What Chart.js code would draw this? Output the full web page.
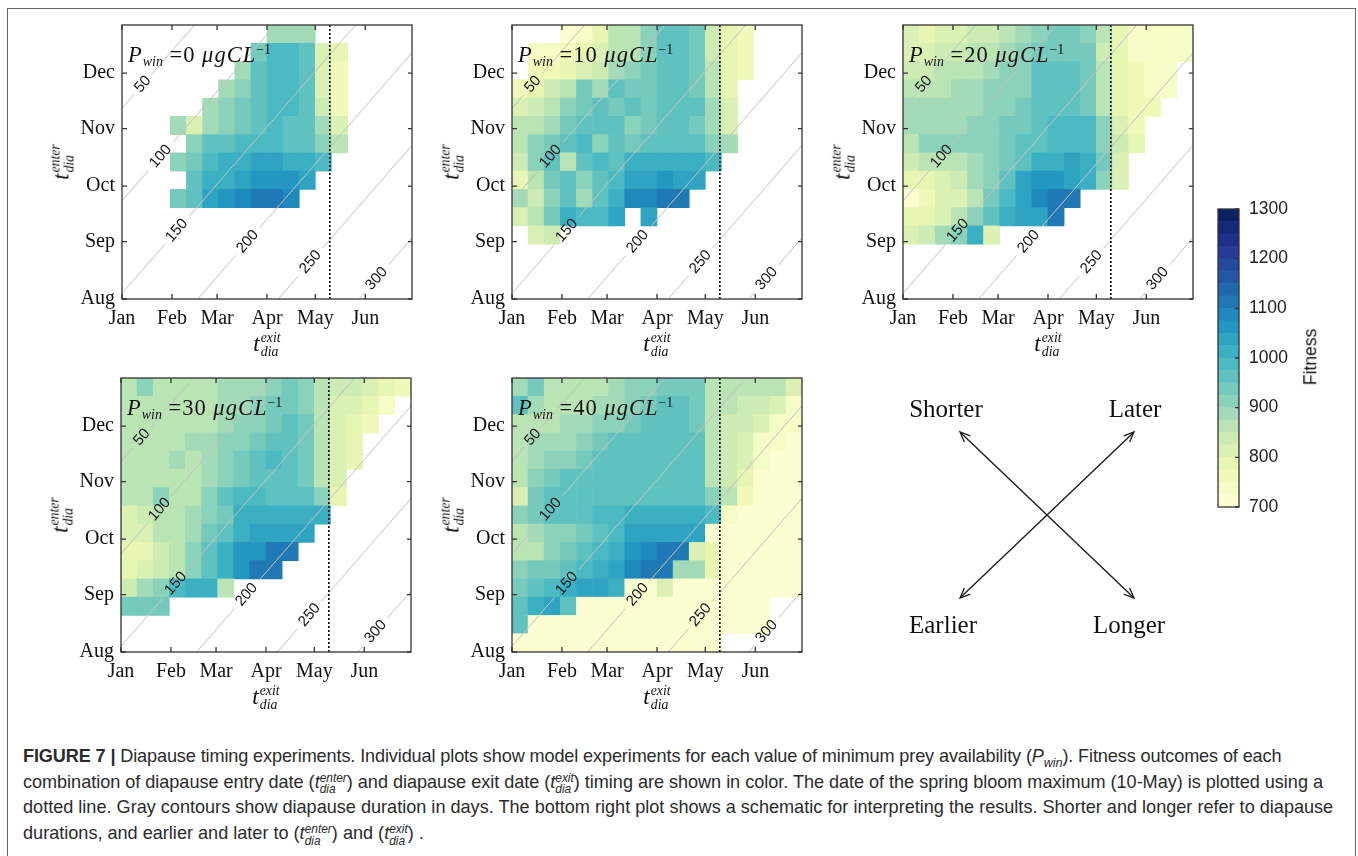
<!DOCTYPE html>
<html>
<head>
<meta charset="utf-8">
<script src="https://cdn.jsdelivr.net/npm/chart.js"></script>
<style>
  html, body { margin: 0; padding: 0; background: #fff; }
  body { width: 1358px; height: 856px; position: relative; overflow: hidden; }
  .frame { position: absolute; left: 7px; top: 8px; width: 1349px; height: 900px; border: 1.5px solid #666; box-sizing: border-box; }
  .txt { position: absolute; white-space: nowrap; font-family: "Liberation Serif", serif; color: #111; line-height: 1; }
  .ss { display: inline-block; vertical-align: -0.42em; font-size: 0.6em; line-height: 1.05; margin-left: 1px; }
  .ss i { display: block; }
  .pw { letter-spacing: 1px; }
  .pw sub { font-size: 0.62em; line-height: 0; vertical-align: -0.3em; letter-spacing: 0; }
  .pw sup { font-size: 0.62em; line-height: 0; vertical-align: 0.55em; letter-spacing: 0; }
  #caption { position: absolute; left: 23px; top: 744px; font-family: "Liberation Sans", Arial, sans-serif; font-size: 18.1px; line-height: 25.7px; color: #2b2b2b; white-space: nowrap; }
  #caption sub { font-size: 0.7em; line-height: 0; }
  .cs { display: inline-block; vertical-align: -0.45em; font-size: 0.66em; line-height: 0.95; letter-spacing: 0; }
  .cs i { display: block; }
</style>
</head>
<body>
<div class="frame"></div>
<div id="caption"></div>
<script>
// Valores del grafico
const monthTicksX = [0, 31, 59, 90, 120, 151];
const monthLabelsX = ["Jan", "Feb", "Mar", "Apr", "May", "Jun"];
const monthTicksY = [0, 31, 61, 92, 122];
const monthLabelsY = ["Aug", "Sep", "Oct", "Nov", "Dec"];
const bloomDay = 129;            // 10-May, dias desde el 1 de enero
const contourDays = [50, 100, 150, 200, 250, 300];
const pwinValues = [0, 10, 20, 30, 40];
const fitnessTicks = [700, 800, 900, 1000, 1100, 1200, 1300];

const _ = null;
// filas de arriba (Dic) hacia abajo (Ago), columnas de Ene a Jun en pasos de 10 dias
const fitness0 = [
  [_,_,_,_,_,_,_,_,_,880,890,890,_,_,_,_,_,_],
  [_,_,_,_,_,_,_,_,925,975,975,950,820,775,_,_,_,_],
  [_,_,_,_,_,_,_,880,950,975,975,950,815,770,_,_,_,_],
  [_,_,_,_,_,_,880,905,965,975,975,955,820,765,_,_,_,_],
  [_,_,_,_,_,880,905,940,970,975,975,955,825,765,_,_,_,_],
  [_,_,_,875,810,880,905,935,965,975,970,950,890,810,_,_,_,_],
  [_,_,_,_,905,950,970,975,985,975,970,955,910,850,_,_,_,_],
  [_,_,_,910,940,995,1000,1020,1025,1025,1020,1010,995,_,_,_,_,_],
  [_,_,_,_,950,1000,1020,1040,1060,1060,1055,1030,_,_,_,_,_,_],
  [_,_,_,940,970,1025,1055,1075,1110,1110,1095,_,_,_,_,_,_,_],
  [_,_,_,_,_,_,_,_,_,_,_,_,_,_,_,_,_,_],
  [_,_,_,_,_,_,_,_,_,_,_,_,_,_,_,_,_,_],
  [_,_,_,_,_,_,_,_,_,_,_,_,_,_,_,_,_,_],
  [_,_,_,_,_,_,_,_,_,_,_,_,_,_,_,_,_,_],
  [_,_,_,_,_,_,_,_,_,_,_,_,_,_,_,_,_,_]
];
const fitness10 = [
  [_,_,_,720,740,790,860,865,910,970,965,930,845,790,760,_,_,_],
  [_,730,745,760,790,820,850,870,900,960,965,935,840,790,760,_,_,_],
  [_,750,760,790,800,840,890,900,930,960,960,930,850,790,770,_,_,_],
  [760,790,830,850,930,880,950,930,945,965,965,945,870,795,_,_,_,_],
  [800,830,860,905,940,960,940,950,940,960,960,950,880,800,_,_,_,_],
  [870,850,880,930,955,970,960,900,945,955,960,935,890,820,_,_,_,_],
  [860,900,930,950,990,920,960,935,965,970,970,960,920,880,_,_,_,_],
  [830,920,960,850,950,975,960,1000,1005,1010,1010,1005,990,_,_,_,_,_],
  [790,870,930,960,910,965,990,1040,1045,1050,1045,1030,_,_,_,_,_,_],
  [880,840,910,960,880,970,1000,1085,1090,1105,1100,_,_,_,_,_,_,_],
  [800,870,940,1010,990,990,1030,_,1030,_,_,_,_,_,_,_,_,_],
  [_,820,830,_,_,_,_,_,_,_,_,_,_,_,_,_,_,_],
  [_,_,_,_,_,_,_,_,_,_,_,_,_,_,_,_,_,_],
  [_,_,_,_,_,_,_,_,_,_,_,_,_,_,_,_,_,_],
  [_,_,_,_,_,_,_,_,_,_,_,_,_,_,_,_,_,_]
];
const fitness20 = [
  [800,790,820,820,840,830,870,880,915,925,925,920,850,790,740,730,725,730],
  [800,820,830,845,860,870,880,900,935,945,945,930,840,780,740,730,730,730],
  [830,840,850,860,870,880,900,905,950,950,950,940,850,790,750,740,740,_],
  [860,860,870,880,890,900,905,920,950,955,955,940,860,790,760,740,740,_],
  [890,880,875,880,890,900,920,930,950,960,960,945,860,790,760,750,_,_],
  [895,890,885,890,900,910,925,935,960,975,985,980,900,810,770,_,_,_],
  [870,900,920,905,900,910,930,955,960,975,990,985,920,840,780,_,_,_],
  [840,860,870,870,880,905,925,950,1010,1020,1025,1000,940,800,_,_,_,_],
  [780,790,820,830,880,920,960,1030,1055,1060,1045,1020,920,820,_,_,_,_],
  [720,770,800,810,870,930,990,1030,1075,1110,1100,_,_,_,_,_,_,_],
  [790,790,810,850,900,950,1000,1030,1040,1105,_,_,_,_,_,_,_,_],
  [800,830,880,900,1020,800,_,_,_,_,_,_,_,_,_,_,_,_],
  [_,_,_,_,_,_,_,_,_,_,_,_,_,_,_,_,_,_],
  [_,_,_,_,_,_,_,_,_,_,_,_,_,_,_,_,_,_],
  [_,_,_,_,_,_,_,_,_,_,_,_,_,_,_,_,_,_]
];
const fitness30 = [
  [860,900,860,860,860,860,880,880,890,920,925,910,850,840,830,810,780,760],
  [850,860,860,860,860,860,880,880,900,930,930,920,850,820,800,790,740,_],
  [850,850,860,860,860,870,885,900,920,940,950,930,860,810,790,760,_,_],
  [850,850,860,860,890,880,900,920,935,950,960,935,860,810,790,_,_,_],
  [850,850,860,890,860,880,900,930,960,990,960,935,860,800,780,_,_,_],
  [850,850,860,860,860,880,900,930,950,960,950,930,850,800,_,_,_,_],
  [850,850,900,860,860,900,960,975,975,970,965,950,910,790,_,_,_,_],
  [820,840,850,860,880,910,940,1000,1010,1010,1010,1010,1000,_,_,_,_,_],
  [800,800,850,860,890,930,960,1020,1045,1045,1040,1030,_,_,_,_,_,_],
  [780,790,830,860,920,960,1000,1050,1070,1110,1110,_,_,_,_,_,_,_],
  [790,800,840,860,900,960,1010,1060,1105,1105,_,_,_,_,_,_,_,_],
  [830,890,910,990,1000,1000,870,_,_,_,_,_,_,_,_,_,_,_],
  [940,940,935,_,_,_,_,_,_,_,_,_,_,_,_,_,_,_],
  [_,_,_,_,_,_,_,_,_,_,_,_,_,_,_,_,_,_],
  [_,_,_,_,_,_,_,_,_,_,_,_,_,_,_,_,_,_]
];
const fitness40 = [
  [890,940,870,870,870,870,890,900,920,935,935,925,870,860,860,850,860,810],
  [950,880,870,870,870,880,890,920,940,950,950,940,870,850,840,840,800,730],
  [870,870,870,880,890,900,905,940,960,960,960,945,860,840,840,800,740,725],
  [870,880,885,890,900,940,960,960,965,965,965,950,860,840,810,730,725,720],
  [860,880,920,900,940,960,965,965,965,965,965,950,860,840,810,730,720,720],
  [860,920,940,950,960,965,965,965,965,965,965,950,870,830,790,720,720,720],
  [820,940,950,960,965,970,970,970,970,970,965,950,900,850,770,720,720,720],
  [900,940,950,950,960,975,975,1000,1010,1015,1005,1000,990,730,720,720,720,720],
  [870,890,900,910,930,960,990,1030,1045,1045,1040,1030,720,720,720,720,720,720],
  [850,870,910,930,950,990,1020,1060,1080,1110,1110,810,780,720,720,720,720,720],
  [900,930,930,960,990,1010,1030,1080,1110,1100,880,880,780,720,720,720,720,720],
  [930,960,980,1020,1030,1030,1000,720,720,800,720,720,720,720,720,720,720,720],
  [960,1010,1030,960,720,720,720,720,720,720,720,720,720,720,720,720,_,_],
  [960,720,720,720,720,720,720,720,720,720,720,720,720,720,720,720,_,_],
  [720,720,720,720,720,720,720,720,720,720,720,720,720,_,_,_,_,_]
];
const fitnessGrids = [fitness0, fitness10, fitness20, fitness30, fitness40];

// Esquema: flechas Shorter<->Longer y Earlier<->Later
const arrowShortLong = [{ x: -1, y: 1 }, { x: 1, y: -1 }];
const arrowEarlyLate = [{ x: -1, y: -1 }, { x: 1, y: 1 }];

// Ejes y escalas
const X_MAX = 180, Y_MAX = 148, N_COLS = 18, N_ROWS = 15;
const COL_W = X_MAX / N_COLS, ROW_H = Y_MAX / N_ROWS;
const DUR_OFFSET = 153;  // duracion = x - y + 153 (x desde 1-Ene, y desde 1-Ago)
const FIT_MIN = 700, FIT_MAX = 1300, N_LEVELS = 24;

// Colores YlGnBu
const ylgnbu = ["#ffffd9", "#edf8b1", "#c7e9b4", "#7fcdbb", "#41b6c4", "#1d91c0", "#225ea8", "#253494", "#081d58"];
function hexToRgb(h) {
    return [parseInt(h.slice(1, 3), 16), parseInt(h.slice(3, 5), 16), parseInt(h.slice(5, 7), 16)];
}
function mapColor(t) {
    const s = t * (ylgnbu.length - 1);
    const i = Math.min(Math.floor(s), ylgnbu.length - 2);
    const f = s - i;
    const a = hexToRgb(ylgnbu[i]), b = hexToRgb(ylgnbu[i + 1]);
    const c = a.map((v, k) => Math.round(v + (b[k] - v) * f));
    return `rgb(${c[0]},${c[1]},${c[2]})`;
}
const levelStep = (FIT_MAX - FIT_MIN) / N_LEVELS;
function levelColor(k) { return mapColor((k + 0.5) / N_LEVELS); }
function fitnessColor(v) {
    const k = Math.max(0, Math.min(N_LEVELS - 1, Math.floor((v - FIT_MIN) / levelStep)));
    return levelColor(k);
}

// Posicion de las etiquetas de contorno (dia de entrada)
const contourLabelY = [116, 77, 37, 31, 20, 11];

function cellData(grid) {
    const pts = [];
    grid.forEach((row, r) => row.forEach((v, c) => {
        if (v === null) return;
        const top = Y_MAX - r * ROW_H;
        pts.push({ x: COL_W / 2 + c * COL_W, y: [top - ROW_H, top], v: v });
    }));
    return pts;
}

function contourPoints(d, ly) {
    const c = d - DUR_OFFSET;
    const gap = d >= 100 ? 7.5 : 5.5;
    const y0 = Math.max(0, -c), y1 = Math.min(Y_MAX, X_MAX - c);
    return [
        { x: y0 + c, y: y0 },
        { x: ly - gap + c, y: ly - gap },
        { x: ly + c, y: null },
        { x: ly + gap + c, y: ly + gap },
        { x: y1 + c, y: y1 }
    ];
}

// Marco con ticks hacia adentro
const framePlugin = {
    id: "frame",
    afterDatasetsDraw(chart) {
        const { ctx, chartArea: a, scales } = chart;
        const full = scales.x && scales.x.options.display !== false;
        ctx.save();
        ctx.strokeStyle = "#333";
        ctx.lineWidth = 1.3;
        ctx.beginPath();
        if (full) {
            for (const t of scales.x.ticks) {
                const px = scales.x.getPixelForValue(t.value);
                ctx.moveTo(px, a.bottom); ctx.lineTo(px, a.bottom - 5);
                ctx.moveTo(px, a.top); ctx.lineTo(px, a.top + 5);
            }
        }
        for (const t of scales.y.ticks) {
            const py = scales.y.getPixelForValue(t.value);
            if (full) { ctx.moveTo(a.left, py); ctx.lineTo(a.left + 5, py); }
            ctx.moveTo(a.right, py); ctx.lineTo(a.right - 4, py);
        }
        ctx.stroke();
        ctx.strokeRect(a.left, a.top, a.width, a.height);
        ctx.restore();
    }
};

// Etiquetas de los contornos de duracion
const contourLabelPlugin = {
    id: "contourLabels",
    afterDatasetsDraw(chart) {
        const { ctx, scales: { x, y } } = chart;
        const ang = Math.atan2(y.getPixelForValue(1) - y.getPixelForValue(0), x.getPixelForValue(1) - x.getPixelForValue(0));
        ctx.save();
        ctx.font = '15px "Liberation Sans"';
        ctx.fillStyle = "#111";
        ctx.textAlign = "center";
        ctx.textBaseline = "middle";
        contourDays.forEach((d, i) => {
            const ly = contourLabelY[i];
            const px = x.getPixelForValue(ly + d - DUR_OFFSET);
            const py = y.getPixelForValue(ly);
            ctx.save();
            ctx.translate(px, py);
            ctx.rotate(ang);
            ctx.fillText(String(d), 0, 0);
            ctx.restore();
        });
        ctx.restore();
    }
};

function addCanvas(left, top, w, h) {
    const c = document.createElement("canvas");
    c.width = w; c.height = h;
    c.style.cssText = `position:absolute;left:${left}px;top:${top}px;width:${w}px;height:${h}px`;
    document.body.appendChild(c);
    return c;
}
function addText(html, left, top, size, extra) {
    const d = document.createElement("div");
    d.className = "txt" + (extra ? " " + extra : "");
    d.style.left = left + "px";
    d.style.top = top + "px";
    d.style.fontSize = size + "px";
    d.innerHTML = html;
    document.body.appendChild(d);
    return d;
}

const PLOT_W = 290, PLOT_H = 274;
const panelPos = [[122, 25], [512, 25], [903, 25], [121, 378], [512, 378]];
const serif = "Liberation Serif";

fitnessGrids.forEach((grid, p) => {
    const [left, top] = panelPos[p];
    const canvas = addCanvas(left - 80, top - 4, 80 + PLOT_W + 4, 4 + PLOT_H + 40);
    const datasets = [
        {
            type: "line",
            data: [{ x: bloomDay, y: 0 }, { x: bloomDay, y: Y_MAX }],
            borderColor: "#111",
            borderWidth: 1.7,
            borderDash: [2, 2],
            pointRadius: 0,
            order: 0
        },
        ...contourDays.map((d, i) => ({
            type: "line",
            data: contourPoints(d, contourLabelY[i]),
            borderColor: "#c2c2c2",
            borderWidth: 1,
            pointRadius: 0,
            spanGaps: false,
            order: 1
        })),
        {
            type: "bar",
            data: cellData(grid),
            backgroundColor: ctx => ctx.raw ? fitnessColor(ctx.raw.v) : "#fff",
            borderWidth: 0,
            barPercentage: 1,
            categoryPercentage: 1,
            order: 2
        }
    ];
    new Chart(canvas, {
        type: "bar",
        data: { datasets },
        options: {
            responsive: false,
            animation: false,
            devicePixelRatio: 1,
            events: [],
            layout: { padding: { top: 4, right: 4, left: 0, bottom: 0 } },
            plugins: { legend: { display: false }, tooltip: { enabled: false } },
            scales: {
                x: {
                    type: "linear", min: 0, max: X_MAX, bounds: "data", offset: false,
                    grid: { display: false, drawTicks: false }, border: { display: false },
                    afterBuildTicks: s => { s.ticks = monthTicksX.map(v => ({ value: v })); },
                    afterFit: s => { s.height = 40; s.paddingLeft = 0; s.paddingRight = 0; },
                    ticks: {
                        autoSkip: false, maxRotation: 0, padding: 8, color: "#111",
                        font: { family: serif, size: 20 },
                        callback: (v, i) => monthLabelsX[i]
                    }
                },
                y: {
                    type: "linear", min: 0, max: Y_MAX, bounds: "data",
                    grid: { display: false, drawTicks: false }, border: { display: false },
                    afterBuildTicks: s => { s.ticks = monthTicksY.map(v => ({ value: v })); },
                    afterFit: s => { s.width = 80; s.paddingTop = 0; s.paddingBottom = 0; },
                    ticks: {
                        autoSkip: false, padding: 7, color: "#111",
                        font: { family: serif, size: 20 },
                        callback: (v, i) => monthLabelsY[i]
                    }
                }
            }
        },
        plugins: [contourLabelPlugin, framePlugin]
    });

    // Textos del panel
    addText(`<i>P</i><sub><i>win</i></sub> =${pwinValues[p]} <i>&mu;gCL</i><sup>&minus;1</sup>`, left + 6, top + 19, 22.5, "pw");
    const xt = addText(`<i>t</i><span class="ss"><i>exit</i><i>dia</i></span>`, left + PLOT_W / 2, top + 306, 23);
    xt.style.transform = "translateX(-50%)";
    const yt = addText(`<i>t</i><span class="ss"><i>enter</i><i>dia</i></span>`, left - 59, top + 137, 23);
    yt.style.transform = "translate(-50%,-50%) rotate(-90deg)";
});

// Barra de colores
const cbCanvas = addCanvas(1214, 195, 4 + 21 + 80, 14 + 298 + 12);
new Chart(cbCanvas, {
    type: "bar",
    data: {
        labels: ["Fitness"],
        datasets: Array.from({ length: N_LEVELS }, (_, k) => ({
            data: [[FIT_MIN + k * levelStep, FIT_MIN + (k + 1) * levelStep]],
            backgroundColor: levelColor(k),
            borderWidth: 0,
            grouped: false,
            barPercentage: 1,
            categoryPercentage: 1
        }))
    },
    options: {
        responsive: false,
        animation: false,
        devicePixelRatio: 1,
        events: [],
        layout: { padding: { top: 14, bottom: 12, left: 4, right: 0 } },
        plugins: { legend: { display: false }, tooltip: { enabled: false } },
        scales: {
            x: { display: false },
            y: {
                position: "right", min: FIT_MIN, max: FIT_MAX, bounds: "data",
                grid: { display: false, drawTicks: false }, border: { display: false },
                afterBuildTicks: s => { s.ticks = fitnessTicks.map(v => ({ value: v })); },
                afterFit: s => { s.width = 80; s.paddingTop = 0; s.paddingBottom = 0; },
                ticks: {
                    padding: 10, color: "#222", font: { family: "Liberation Sans", size: 17.5 },
                    callback: v => String(v)
                }
            }
        }
    },
    plugins: [framePlugin]
});
const fit = addText("Fitness", 1311, 357, 17.5);
fit.style.fontFamily = '"Liberation Sans", sans-serif';
fit.style.transform = "translate(-50%,-50%) rotate(-90deg)";

// Esquema de interpretacion
const arrowPlugin = {
    id: "arrowHeads",
    afterDatasetsDraw(chart) {
        const ctx = chart.ctx;
        ctx.save();
        ctx.strokeStyle = "#1a1a1a";
        ctx.lineWidth = 1.3;
        chart.data.datasets.forEach((ds, i) => {
            const pts = chart.getDatasetMeta(i).data;
            const a = pts[0], b = pts[pts.length - 1];
            [[a, b], [b, a]].forEach(([from, to]) => {
                const ang = Math.atan2(to.y - from.y, to.x - from.x);
                ctx.beginPath();
                ctx.moveTo(to.x - 11 * Math.cos(ang - 0.4), to.y - 11 * Math.sin(ang - 0.4));
                ctx.lineTo(to.x, to.y);
                ctx.lineTo(to.x - 11 * Math.cos(ang + 0.4), to.y - 11 * Math.sin(ang + 0.4));
                ctx.stroke();
            });
        });
        ctx.restore();
    }
};
const schCanvas = addCanvas(940, 412, 214, 206);
new Chart(schCanvas, {
    type: "scatter",
    data: {
        datasets: [
            { data: arrowShortLong, showLine: true, borderColor: "#1a1a1a", borderWidth: 1.3, pointRadius: 0 },
            { data: arrowEarlyLate, showLine: true, borderColor: "#1a1a1a", borderWidth: 1.3, pointRadius: 0 }
        ]
    },
    options: {
        responsive: false,
        animation: false,
        devicePixelRatio: 1,
        events: [],
        layout: { padding: 20 },
        plugins: { legend: { display: false }, tooltip: { enabled: false } },
        scales: {
            x: { display: false, min: -1, max: 1 },
            y: { display: false, min: -1, max: 1 }
        }
    },
    plugins: [arrowPlugin]
});
[["Shorter", 946, 396], ["Later", 1135, 396], ["Earlier", 943, 612], ["Longer", 1129, 612]].forEach(([t, x, y]) => {
    const d = addText(t, x, y, 25);
    d.style.transform = "translateX(-50%)";
});

// Pie de figura
const tt = (sup) => `<i>t</i><span class="cs"><i>${sup}</i><i>dia</i></span>`;
document.getElementById("caption").innerHTML =
    `<span style="letter-spacing:-0.12px"><b>FIGURE 7 |</b> Diapause timing experiments. Individual plots show model experiments for each value of minimum prey availability (<i>P<sub>win</sub></i>). Fitness outcomes of each</span><br>` +
    `<span style="letter-spacing:-0.03px">combination of diapause entry date (${tt("enter")}) and diapause exit date (${tt("exit")}) timing are shown in color. The date of the spring bloom maximum (10-May) is plotted using a</span><br>` +
    `dotted line. Gray contours show diapause duration in days. The bottom right plot shows a schematic for interpreting the results. Shorter and longer refer to diapause<br>` +
    `durations, and earlier and later to (${tt("enter")}) and (${tt("exit")}) .`;
</script>
</body>
</html>
